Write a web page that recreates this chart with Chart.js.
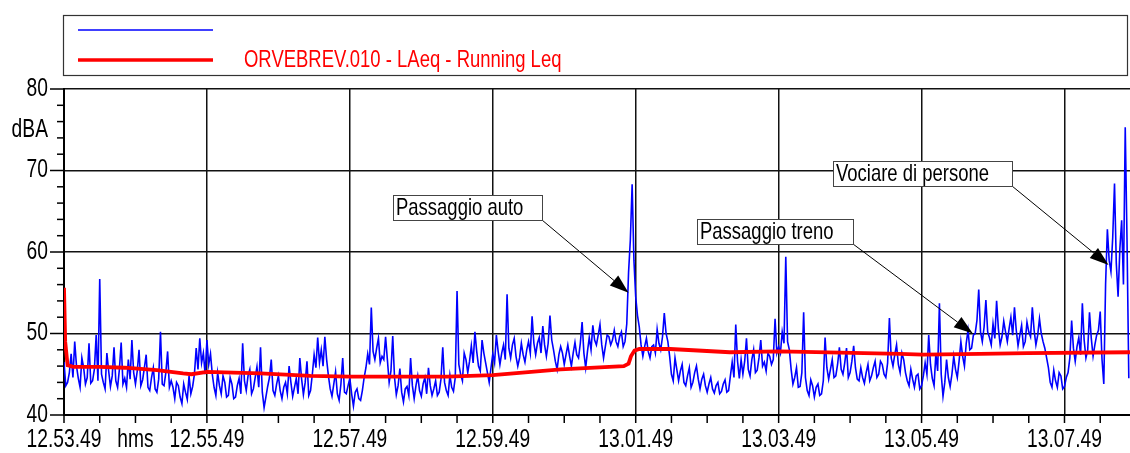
<!DOCTYPE html>
<html>
<head>
<meta charset="utf-8">
<script src="https://cdn.jsdelivr.net/npm/chart.js@4.4.0/dist/chart.umd.min.js"></script>
<style>
  body { margin: 0; background: #fff; }
</style>
</head>
<body>
<canvas id="leqChart" width="1130" height="453"></canvas>
<script>
// livello istantaneo LAeq, un campione ogni 1.5 secondi a partire da 12.53.49
const STEP = 1.5;
const levelValues = [
  46.5, 43.6, 44.0, 45.2, 47.5, 44.6, 49.0, 46.0, 44.5, 43.4, 47.0, 45.8, 43.8, 44.6, 48.8, 43.9, 44.2, 45.6, 49.8, 44.2,
  56.7, 45.0, 44.0, 43.2, 47.6, 45.4, 43.5, 44.8, 48.3, 44.2, 43.4, 45.6, 48.9, 43.8, 44.5, 43.4, 46.8, 44.4, 49.2, 45.2,
  43.8, 45.4, 48.0, 43.6, 44.3, 45.8, 47.4, 43.4, 43.0, 44.6, 45.8, 43.2, 42.8, 44.4, 50.2, 43.8, 43.6, 45.2, 47.8, 43.4,
  44.2, 43.4, 42.0, 44.0, 43.6, 42.2, 41.4, 43.8, 42.8, 41.9, 44.8, 42.6, 43.5, 45.0, 48.2, 45.6, 49.4, 46.4, 47.6, 45.0,
  49.2, 46.2, 47.5, 45.0, 43.4, 42.4, 45.2, 43.6, 42.6, 44.8, 44.0, 42.2, 42.4, 44.6, 43.8, 42.0, 42.2, 43.6, 44.5, 42.6,
  48.8, 44.2, 43.0, 44.8, 45.6, 42.6, 43.2, 44.6, 45.9, 43.4, 48.3, 42.8, 40.9, 42.2, 43.5, 44.6, 46.8, 43.0, 42.4, 43.8,
  44.8, 43.0, 42.0, 43.4, 44.0, 42.6, 46.0, 44.0, 42.3, 43.4, 44.5, 42.6, 47.0, 44.4, 42.5, 44.0, 46.6, 42.4, 43.0, 45.0,
  47.4, 45.8, 49.5, 46.4, 48.0, 46.0, 49.6, 46.8, 44.8, 43.2, 42.3, 43.8, 45.3, 42.6, 41.8, 43.8, 47.0, 42.8, 42.6, 43.6,
  44.5, 42.6, 41.1, 42.8, 43.2, 42.0, 41.8, 43.0, 44.6, 45.8, 47.5, 46.2, 53.2, 47.8, 46.8, 48.2, 49.4, 46.4, 47.2, 46.8,
  49.6, 46.8, 44.0, 45.4, 49.7, 44.6, 42.5, 43.6, 45.7, 42.8, 41.6, 43.2, 43.5, 42.4, 47.0, 43.6, 42.0, 43.6, 44.8, 43.0,
  42.3, 43.8, 44.6, 42.6, 45.8, 43.6, 42.4, 43.2, 44.2, 42.4, 42.8, 44.4, 48.3, 44.0, 43.0, 42.4, 44.9, 43.4, 42.9, 44.6,
  55.2, 46.2, 45.0, 44.2, 47.6, 46.8, 45.2, 46.6, 48.5, 46.4, 50.2, 47.8, 46.0, 45.4, 49.2, 47.6, 46.4, 45.2, 44.0, 45.8,
  47.5, 46.4, 49.8, 47.8, 46.2, 47.6, 48.6, 46.8, 54.8, 48.2, 47.0, 48.6, 49.4, 47.2, 46.0, 47.0, 48.8, 47.4, 46.5, 48.0,
  49.0, 47.6, 52.1, 48.8, 47.4, 48.8, 49.5, 47.6, 50.9, 48.6, 47.2, 48.8, 52.2, 49.2, 48.0, 46.6, 45.6, 47.4, 48.4, 47.6,
  46.2, 47.4, 48.6, 47.2, 46.0, 47.6, 48.9, 47.4, 47.0, 48.8, 51.4, 47.6, 45.8, 47.8, 49.5, 48.0, 51.0, 49.2, 48.6, 49.8,
  51.1, 48.6, 47.0, 48.4, 49.8, 49.6, 48.6, 49.2, 50.4, 49.0, 48.4, 49.6, 50.2, 48.4, 49.0, 51.2, 57.5, 61.5, 68.3, 59.0,
  54.5, 52.2, 50.8, 48.6, 47.2, 48.4, 49.4, 47.8, 47.0, 48.4, 48.6, 47.6, 50.5, 48.8, 48.0, 49.6, 52.5, 50.0, 49.0, 47.2,
  45.0, 44.2, 47.0, 45.6, 44.2, 45.4, 46.2, 44.0, 43.6, 44.8, 45.8, 43.4, 44.0, 45.2, 46.0, 44.4, 43.2, 44.4, 45.0, 43.6,
  42.8, 43.8, 44.6, 43.2, 42.7, 43.6, 44.0, 42.6, 42.9, 43.8, 44.3, 42.8, 43.0, 44.8, 46.5, 44.6, 51.1, 46.6, 44.5, 46.8,
  45.0, 46.6, 49.4, 45.6, 44.8, 46.8, 48.0, 45.2, 45.5, 47.0, 49.2, 46.0, 46.5, 45.4, 47.6, 47.2, 46.2, 46.8, 51.8, 47.6,
  48.4, 47.6, 50.2, 48.8, 59.4, 49.0, 48.0, 45.6, 43.8, 44.6, 45.8, 43.4, 43.5, 45.2, 52.6, 44.6, 43.0, 42.4, 44.3, 43.6,
  42.2, 43.4, 43.8, 42.4, 42.6, 44.2, 49.5, 45.8, 44.4, 45.6, 46.8, 44.6, 44.8, 46.2, 48.3, 45.6, 45.0, 46.4, 48.2, 44.6,
  45.2, 46.6, 48.5, 45.8, 44.4, 44.2, 45.8, 44.6, 43.9, 45.2, 46.2, 44.2, 44.8, 45.8, 46.6, 44.6, 45.0, 46.6, 46.2, 45.0,
  44.6, 46.4, 51.9, 47.0, 46.0, 47.4, 48.6, 46.2, 45.2, 47.6, 46.8, 45.2, 44.2, 43.6, 45.6, 44.4, 43.4, 44.8, 45.0, 43.2,
  43.6, 44.8, 46.4, 45.0, 49.8, 46.2, 44.5, 43.6, 47.5, 45.4, 53.7, 45.0, 42.3, 44.0, 46.8, 44.6, 43.5, 45.0, 47.2, 45.6,
  44.6, 46.6, 49.0, 47.2, 46.0, 48.8, 50.4, 48.0, 48.2, 49.8, 50.0, 51.6, 55.4, 50.2, 49.0, 50.8, 54.1, 50.2, 49.5, 48.6,
  51.2, 49.4, 54.0, 50.6, 48.6, 49.6, 51.5, 50.2, 49.0, 50.6, 52.0, 49.8, 53.2, 50.4, 48.5, 49.8, 51.0, 48.4, 49.0, 51.4,
  50.2, 49.6, 53.2, 50.4, 48.6, 49.8, 51.8, 50.0, 49.0, 48.2, 47.0, 45.8, 44.0, 43.4, 45.5, 44.2, 43.4, 45.2, 44.8, 43.2,
  43.5, 44.6, 45.2, 47.0, 51.6, 48.2, 46.6, 48.4, 49.5, 47.4, 53.7, 49.2, 47.0, 48.0, 52.6, 49.4, 47.2, 48.6, 49.8, 50.4,
  52.7, 46.8, 43.8, 56.0, 62.8, 59.0, 57.6, 61.8, 68.4, 58.6, 54.5, 60.4, 63.9, 56.0, 75.3, 61.4, 44.5
];

// Running Leq (secondi da 12.53.49, dBA)
const leqTimes = [0, 1, 3, 8, 30, 51, 78, 100, 107, 120, 165, 207, 240, 322, 360, 417,
  470, 474, 476, 479, 483, 509, 559, 601, 702, 721, 769, 809, 895];
const leqValues = [55.6, 49.0, 46.1, 45.9, 45.9, 45.8, 45.5, 45.1, 45.0, 45.3, 45.1, 44.8, 44.7, 44.7, 44.9, 45.6,
  46.0, 46.3, 47.2, 47.9, 48.1, 48.1, 47.7, 47.8, 47.5, 47.4, 47.5, 47.6, 47.7];

const tickSeconds = [0, 120, 240, 360, 480, 600, 720, 840];
const tickLabels = ['12.53.49', '12.55.49', '12.57.49', '12.59.49', '13.01.49', '13.03.49', '13.05.49', '13.07.49'];
const yTicks = [40, 50, 60, 70, 80];

const notes = ['Passaggio auto', 'Passaggio treno', 'Vociare di persone'];
const noteTimes = [474, 763, 877];
const noteValues = [55.0, 50.0, 58.4];
const legendText = 'ORVEBREV.010 - LAeq - Running Leq';

// posizione dei riquadri delle note (pixel)
const noteBoxes = [
  { x: 393, y: 195, w: 149, h: 25 },
  { x: 697, y: 219, w: 156, h: 25 },
  { x: 833, y: 161, w: 179, h: 25 }
];

const SQUEEZE = 0.77;
const FONT = '"Liberation Sans", Arial, sans-serif';

function drawText(ctx, s, x, y, size, color, align) {
  ctx.save();
  ctx.font = size + 'px ' + FONT;
  ctx.fillStyle = color;
  ctx.textBaseline = 'middle';
  ctx.textAlign = 'left';
  const w = ctx.measureText(s).width * SQUEEZE;
  let x0 = x;
  if (align === 'right') x0 = x - w;
  if (align === 'center') x0 = x - w / 2;
  ctx.translate(x0, y);
  ctx.scale(SQUEEZE, 1);
  ctx.fillText(s, 0, 0);
  ctx.restore();
}

function seg(ctx, x1, y1, x2, y2) {
  ctx.beginPath();
  ctx.moveTo(x1, y1);
  ctx.lineTo(x2, y2);
  ctx.stroke();
}

const decor = {
  id: 'decor',
  afterDatasetsDraw(chart) {
    const { ctx, scales: { x, y } } = chart;
    ctx.save();
    notes.forEach((label, i) => {
      const b = noteBoxes[i];
      const tx = x.getPixelForValue(noteTimes[i]);
      const ty = y.getPixelForValue(noteValues[i]);
      const sx = b.x + b.w, sy = b.y + b.h;
      // freccia
      ctx.strokeStyle = '#000';
      ctx.lineWidth = 1;
      const ang = Math.atan2(ty - sy, tx - sx);
      const L = 19, H = 6.5;
      const bx = tx - L * Math.cos(ang), by = ty - L * Math.sin(ang);
      seg(ctx, sx, sy, bx, by);
      ctx.fillStyle = '#000';
      ctx.beginPath();
      ctx.moveTo(tx, ty);
      ctx.lineTo(bx + H * Math.sin(ang), by - H * Math.cos(ang));
      ctx.lineTo(bx - H * Math.sin(ang), by + H * Math.cos(ang));
      ctx.closePath();
      ctx.fill();
      // riquadro
      ctx.fillStyle = '#fff';
      ctx.fillRect(b.x, b.y, b.w, b.h);
      ctx.strokeStyle = '#444';
      ctx.strokeRect(b.x + 0.5, b.y + 0.5, b.w, b.h);
      drawText(ctx, label, b.x + 3, b.y + b.h / 2 + 1, 24, '#000', 'left');
    });
    ctx.restore();
  },
  afterDraw(chart) {
    const { ctx, chartArea: a, scales: { x, y } } = chart;
    ctx.save();
    ctx.strokeStyle = '#000';
    ctx.lineWidth = 1.5;
    // tacche asse y
    for (let v = 40; v <= 80; v += 2) {
      const py = y.getPixelForValue(v);
      seg(ctx, a.left - (v % 10 === 0 ? 14 : 7), py, a.left, py);
    }
    yTicks.forEach(v => drawText(ctx, String(v), 48, y.getPixelForValue(v), 25, '#000', 'right'));
    drawText(ctx, 'dBA', 48, y.getPixelForValue(75), 25, '#000', 'right');
    // tacche asse x
    for (let t = 0; t <= x.max; t += 30) {
      const px = x.getPixelForValue(t);
      seg(ctx, px, a.bottom, px, a.bottom + 8);
    }
    tickSeconds.forEach((t, i) => drawText(ctx, tickLabels[i], x.getPixelForValue(t), 440, 25, '#000', 'center'));
    drawText(ctx, 'hms', x.getPixelForValue(60), 440, 25, '#000', 'center');

    // legenda
    ctx.strokeStyle = '#333';
    ctx.lineWidth = 1.2;
    ctx.strokeRect(63.5, 15.5, 1064, 60);
    ctx.strokeStyle = '#0000ff';
    ctx.lineWidth = 1.5;
    seg(ctx, 78, 30, 213, 30);
    ctx.strokeStyle = '#ff0000';
    ctx.lineWidth = 3.5;
    seg(ctx, 78, 60, 213, 60);
    drawText(ctx, legendText, 244, 60, 24, '#ff0000', 'left');
    ctx.restore();
  }
};

const ctx = document.getElementById('leqChart').getContext('2d');
const leqChart = new Chart(ctx, {
  type: 'line',
  data: {
    datasets: [
      {
        label: legendText,
        data: leqTimes.map((t, i) => ({ x: t, y: leqValues[i] })),
        borderColor: '#ff0000',
        borderWidth: 3.8,
        pointRadius: 0,
        tension: 0,
        order: 0
      },
      {
        label: '',
        data: levelValues.map((v, i) => ({ x: i * STEP, y: v })),
        borderColor: '#0000ff',
        borderWidth: 1.6,
        pointRadius: 0,
        tension: 0,
        order: 1
      }
    ]
  },
  options: {
    responsive: false,
    animation: false,
    devicePixelRatio: 1,
    layout: { padding: { top: 89, right: 0, bottom: 0, left: 0 } },
    scales: {
      x: {
        type: 'linear',
        min: 0,
        max: 895,
        afterFit: s => { s.height = 38; },
        ticks: { stepSize: 120, includeBounds: false, display: false },
        grid: {
          drawTicks: false,
          color: c => c.tick.value === 0 ? 'rgba(0,0,0,0)' : '#111',
          lineWidth: 1.5
        },
        border: { display: true, color: '#000', width: 2 }
      },
      y: {
        min: 40,
        max: 80,
        afterFit: s => { s.width = 64; },
        ticks: { stepSize: 10, display: false },
        grid: {
          drawTicks: false,
          color: c => c.tick.value === 40 ? 'rgba(0,0,0,0)' : '#111',
          lineWidth: 1.5
        },
        border: { display: true, color: '#000', width: 2 }
      }
    },
    plugins: {
      legend: { display: false },
      tooltip: { enabled: false }
    }
  },
  plugins: [decor]
});
</script>
</body>
</html>
